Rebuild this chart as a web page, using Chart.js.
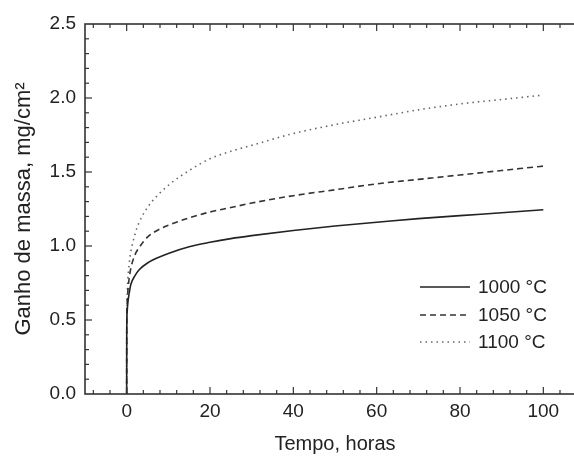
<!DOCTYPE html>
<html>
<head>
<meta charset="utf-8">
<script src="https://cdn.jsdelivr.net/npm/chart.js@4/dist/chart.umd.min.js"></script>
<style>
html, body { margin: 0; padding: 0; background: #fff; overflow: hidden; width: 574px; height: 456px; }
canvas { display: block; }
</style>
</head>
<body>
<canvas id="c" width="600" height="456"></canvas>
<script>
// Data
const hours    = [0, 0.02, 0.1, 0.3, 0.6, 1, 2, 3, 5, 7, 10, 15, 20, 25, 30, 40, 50, 60, 70, 80, 90, 100];
const gain1000 = [0, 0.42, 0.55, 0.62, 0.68, 0.74, 0.80, 0.84, 0.885, 0.915, 0.95, 0.995, 1.025, 1.05, 1.07, 1.105, 1.135, 1.16, 1.185, 1.205, 1.225, 1.245];
const gain1050 = [0, 0.45, 0.60, 0.70, 0.78, 0.85, 0.94, 0.99, 1.06, 1.10, 1.14, 1.19, 1.23, 1.26, 1.29, 1.34, 1.38, 1.42, 1.45, 1.48, 1.51, 1.54];
const gain1100 = [0, 0.48, 0.65, 0.78, 0.88, 0.96, 1.08, 1.16, 1.26, 1.33, 1.41, 1.51, 1.59, 1.64, 1.68, 1.76, 1.82, 1.87, 1.92, 1.96, 1.99, 2.02];
const seriesLabels = ['1000 °C', '1050 °C', '1100 °C'];
const xTicks = [0, 20, 40, 60, 80, 100];
const yTicks = [0.0, 0.5, 1.0, 1.5, 2.0, 2.5];
const xTitle = 'Tempo, horas';
const yTitle = 'Ganho de massa, mg/cm²';

const FONT = '"Liberation Sans", Arial, sans-serif';
const pts = arr => hours.map((h, i) => ({ x: h, y: arr[i] }));

const framePlugin = {
  id: 'frame',
  afterDraw(chart) {
    const { ctx, chartArea: a, scales: { x, y } } = chart;
    ctx.save();
    ctx.strokeStyle = '#333';
    ctx.lineWidth = 1.6;
    ctx.setLineDash([]);
    ctx.strokeRect(a.left, a.top, a.right - a.left, a.bottom - a.top);
    ctx.lineWidth = 1.2;
    // x ticks (inward), every 4 units, major every 20
    for (let v = -8; v <= 108; v += 4) {
      const px = x.getPixelForValue(v);
      const len = (v % 20 === 0) ? 7 : 4;
      ctx.beginPath(); ctx.moveTo(px, a.bottom); ctx.lineTo(px, a.bottom - len); ctx.stroke();
      ctx.beginPath(); ctx.moveTo(px, a.top); ctx.lineTo(px, a.top + len); ctx.stroke();
    }
    // y ticks (inward), every 0.1, major every 0.5
    for (let i = 1; i < 25; i++) {
      const v = i / 10;
      const py = y.getPixelForValue(v);
      const len = (i % 5 === 0) ? 7 : 4;
      ctx.beginPath(); ctx.moveTo(a.left, py); ctx.lineTo(a.left + len, py); ctx.stroke();
      ctx.beginPath(); ctx.moveTo(a.right, py); ctx.lineTo(a.right - len, py); ctx.stroke();
    }
    // legend
    const lx0 = 420, lx1 = 470, ly = [287, 315, 342];
    ctx.font = '19px ' + FONT;
    ctx.textBaseline = 'middle';
    ctx.textAlign = 'left';
    chart.data.datasets.forEach((ds, i) => {
      ctx.strokeStyle = ds.borderColor;
      ctx.lineWidth = ds.borderWidth;
      ctx.setLineDash(ds.borderDash || []);
      ctx.beginPath(); ctx.moveTo(lx0, ly[i]); ctx.lineTo(lx1, ly[i]); ctx.stroke();
      ctx.setLineDash([]);
      ctx.fillStyle = '#222';
      ctx.fillText(ds.label, 478, ly[i] + 1);
    });
    ctx.restore();
  }
};

new Chart(document.getElementById('c'), {
  type: 'line',
  data: {
    datasets: [
      { label: seriesLabels[0], data: pts(gain1000), borderColor: '#222', borderWidth: 1.6, borderDash: [], pointRadius: 0, cubicInterpolationMode: 'monotone', fill: false },
      { label: seriesLabels[1], data: pts(gain1050), borderColor: '#333', borderWidth: 1.6, borderDash: [6, 4], pointRadius: 0, cubicInterpolationMode: 'monotone', fill: false },
      { label: seriesLabels[2], data: pts(gain1100), borderColor: '#666', borderWidth: 1.6, borderDash: [1.5, 4], pointRadius: 0, cubicInterpolationMode: 'monotone', fill: false }
    ]
  },
  options: {
    responsive: false,
    animation: false,
    layout: { padding: { top: 24, right: 15, bottom: 0, left: 0 } },
    plugins: { legend: { display: false }, tooltip: { enabled: false } },
    scales: {
      x: {
        type: 'linear',
        min: -10, max: 110,
        grid: { display: false, drawTicks: false },
        border: { display: false },
        afterBuildTicks: s => { s.ticks = xTicks.map(v => ({ value: v })); },
        afterFit: s => { s.height = 62; },
        ticks: { color: '#222', padding: 6, font: { size: 19, family: FONT }, maxRotation: 0 },
        title: { display: true, text: xTitle, color: '#222', font: { size: 20, family: FONT }, padding: { top: 0, bottom: 0 } }
      },
      y: {
        type: 'linear',
        min: 0, max: 2.5,
        grid: { display: false, drawTicks: false },
        border: { display: false },
        afterBuildTicks: s => { s.ticks = yTicks.map(v => ({ value: v })); },
        afterFit: s => { s.width = 85; },
        ticks: { color: '#222', padding: 9, font: { size: 19, family: FONT }, callback: v => Number(v).toFixed(1) },
        title: { display: true, text: yTitle, color: '#222', font: { size: 22, family: FONT }, padding: { top: 11, bottom: 0 } }
      }
    }
  },
  plugins: [framePlugin]
});
</script>
</body>
</html>
